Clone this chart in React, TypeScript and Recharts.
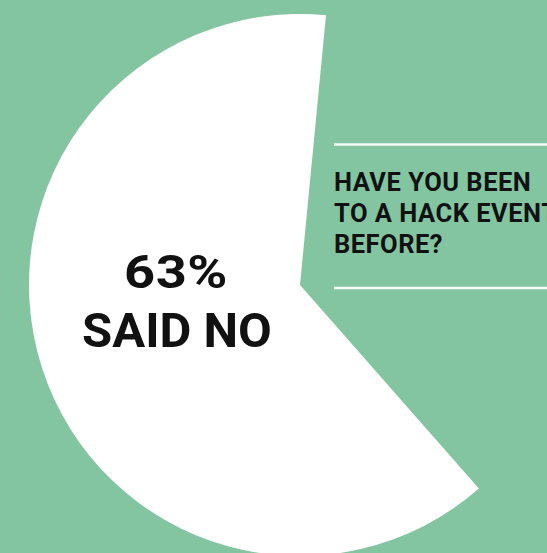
import { PieChart, Pie, Cell } from 'recharts'

const answers = ['No', 'Yes']
const shares = [63, 37]
const questionLines = ['HAVE YOU BEEN', 'TO A HACK EVENT', 'BEFORE?']
const headline = ['63%', 'SAID NO']

const data = answers.map((name, i) => ({ name, value: shares[i] }))
const fills = ['#ffffff', 'transparent']

export default function App() {
  const startAngle = 84.5
  return (
    <div
      style={{
        position: 'absolute',
        top: 0,
        left: 0,
        width: 547,
        height: 553,
        background: '#83c5a1',
        overflow: 'hidden',
      }}
    >
      <PieChart width={547} height={553} margin={{ top: 0, right: 0, bottom: 0, left: 0 }}>
        <Pie
          data={data}
          dataKey="value"
          nameKey="name"
          cx={300}
          cy={285}
          innerRadius={0}
          outerRadius={271}
          startAngle={startAngle}
          endAngle={startAngle + 360}
          stroke="none"
          isAnimationActive={false}
        >
          {data.map((d, i) => (
            <Cell key={d.name} fill={fills[i]} />
          ))}
        </Pie>
      </PieChart>
      {/* overlay: headline, question and rules */}
      <svg
        width={547}
        height={553}
        style={{ position: 'absolute', top: 0, left: 0, pointerEvents: 'none' }}
      >
        <text
          transform="translate(176,288) scale(1.18,1)"
          x={0}
          y={0}
          textAnchor="middle"
          fontFamily="Roboto"
          fontWeight={700}
          fontSize={46}
          letterSpacing={0.5}
          fill="#111"
        >
          {headline[0]}
        </text>
        <text
          x={177}
          y={347}
          textAnchor="middle"
          fontFamily="Roboto"
          fontWeight={700}
          fontSize={49}
          fill="#111"
        >
          {headline[1]}
        </text>
        <line x1={334} x2={547} y1={144.5} y2={144.5} stroke="#f4faf6" strokeWidth={2.5} />
        <line x1={334} x2={547} y1={288} y2={288} stroke="#f4faf6" strokeWidth={2.5} />
        {questionLines.map((t, i) => (
          <text
            key={t}
            x={334}
            y={191 + i * 31}
            fontFamily="Roboto"
            fontWeight={700}
            fontSize={25.5}
            letterSpacing={0.5}
            fill="#111"
          >
            {t}
          </text>
        ))}
      </svg>
    </div>
  )
}
